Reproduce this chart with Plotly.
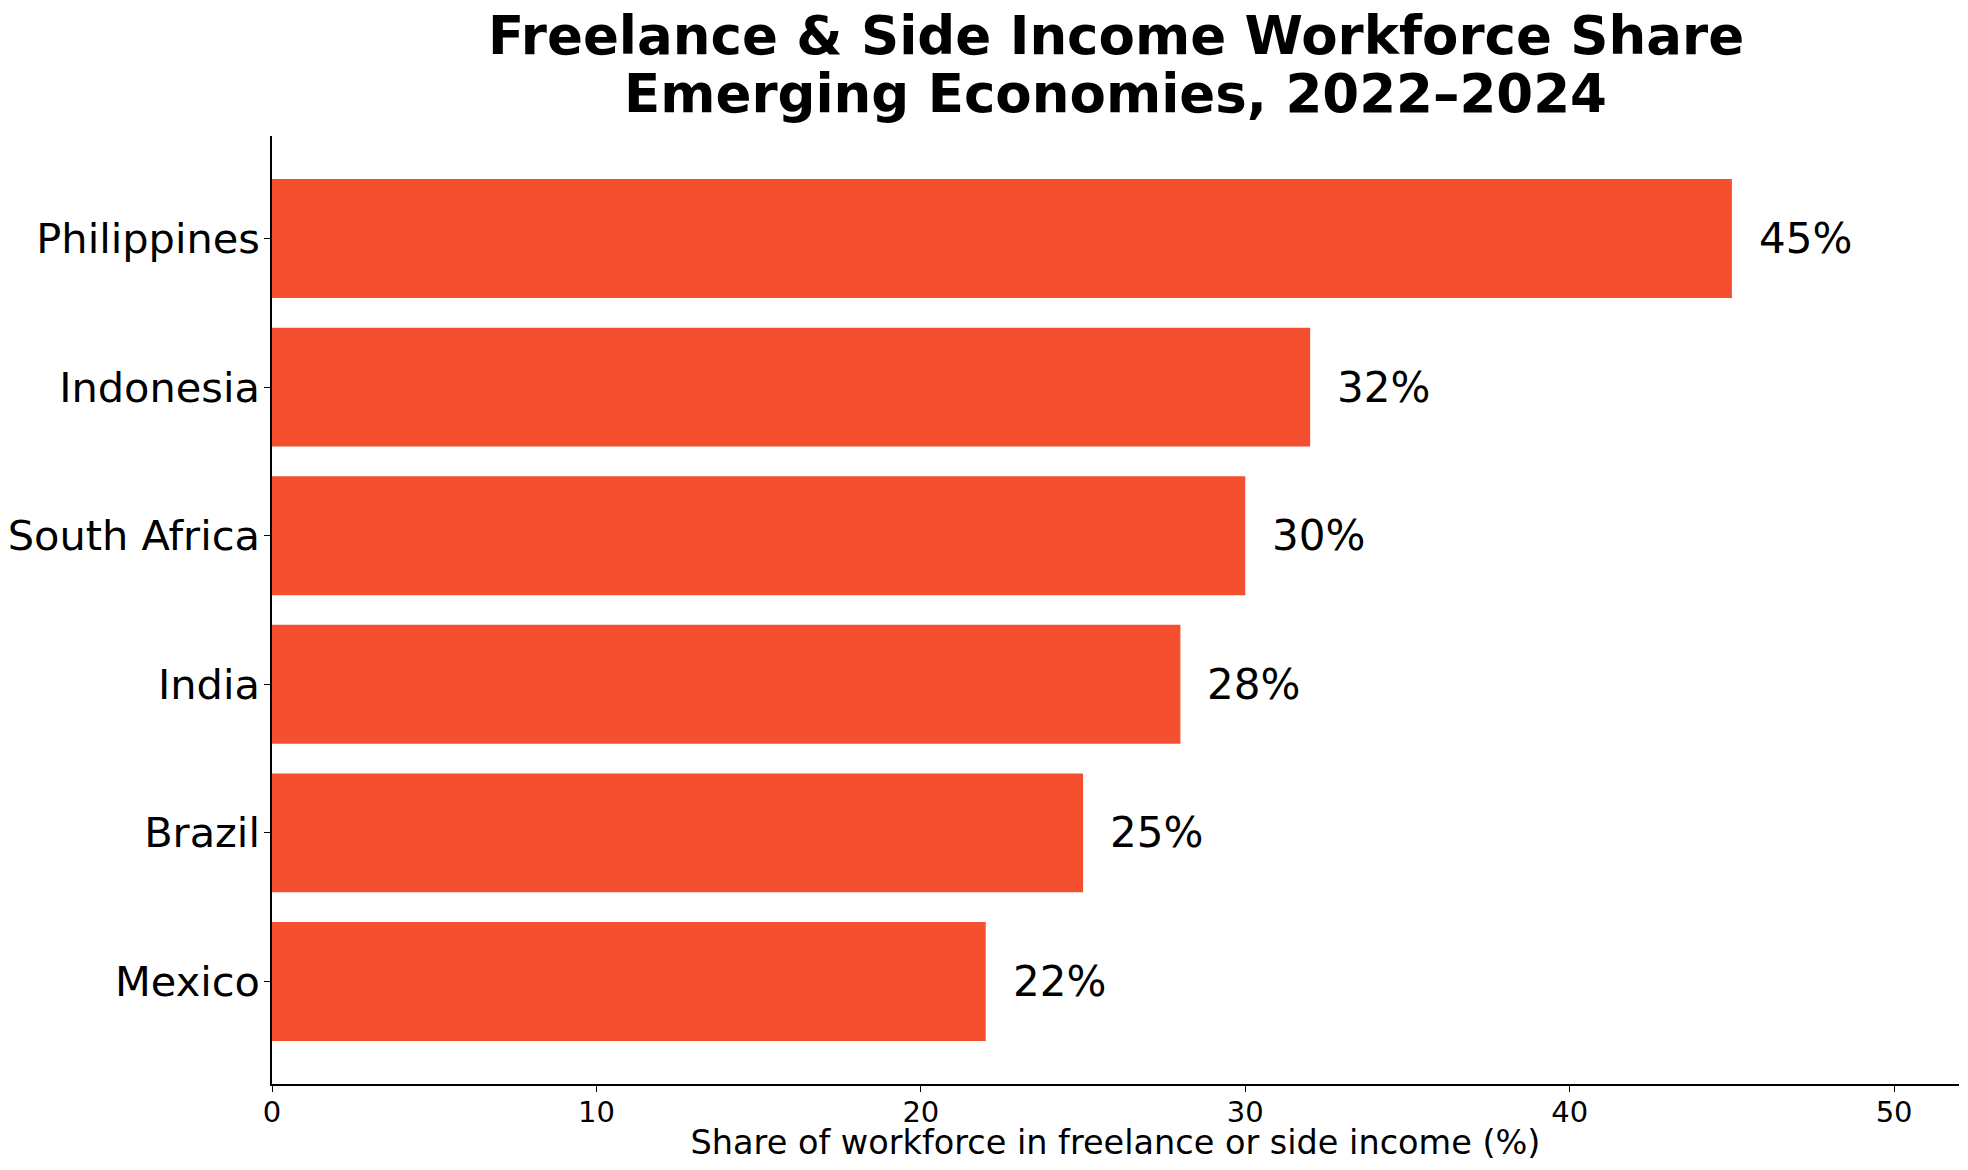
import plotly.graph_objects as go

# Data (bottom to top, as drawn)
countries = ["Mexico", "Brazil", "India", "South Africa", "Indonesia", "Philippines"]
shares = [22, 25, 28, 30, 32, 45]
x_ticks = [0, 10, 20, 30, 40, 50]
title_lines = ["Freelance & Side Income Workforce Share", "Emerging Economies, 2022–2024"]

BAR_COLOR = "#F45030"
FONT = "DejaVu Sans"

fig = go.Figure()

fig.add_trace(go.Bar(
    x=shares, y=countries, orientation="h",
    marker=dict(color=BAR_COLOR, line=dict(width=0)),
    width=0.8,
    showlegend=False,
    hovertemplate="%{y}: %{x}%<extra></extra>",
))

# value labels to the right of each bar
for c, v in zip(countries, shares):
    fig.add_annotation(
        x=v, y=c, text=f"{v}%", showarrow=False,
        xanchor="left", yanchor="middle", xshift=25,
        font=dict(family=FONT, size=42, color="black"),
    )

# two-line bold title, centred over the plot area
for txt, ypos in zip(title_lines, [1.1062, 1.0448]):
    fig.add_annotation(
        x=0.5, y=ypos, xref="paper", yref="paper", text=f"<b>{txt}</b>",
        showarrow=False, xanchor="center", yanchor="middle",
        font=dict(family=FONT, size=53, color="black"),
    )

# page body has an 8px margin, so the figure is sized to fit inside it
fig.update_layout(
    width=1952, height=1154,
    margin=dict(l=264, r=1, t=128, b=78),
    plot_bgcolor="white", paper_bgcolor="white",
    font=dict(family=FONT, color="black"),
    bargap=0.2,
)

fig.update_xaxes(
    range=[0, 52], tickvals=x_ticks, showgrid=False, zeroline=False,
    showline=True, linecolor="black", linewidth=1.5,
    ticks="outside", ticklen=6, tickcolor="black",
    tickfont=dict(family=FONT, size=29), ticklabelstandoff=-5,
    title=dict(text="Share of workforce in freelance or side income (%)",
               font=dict(family=FONT, size=33.5), standoff=5),
    automargin=False,
)
fig.update_yaxes(
    range=[-0.69, 5.69], showgrid=False, zeroline=False,
    showline=True, linecolor="black", linewidth=1.5,
    ticks="outside", ticklen=6, tickcolor="black",
    tickfont=dict(family=FONT, size=41.5), ticklabelstandoff=-4,
    automargin=False,
)

fig.write_html("out.html")
